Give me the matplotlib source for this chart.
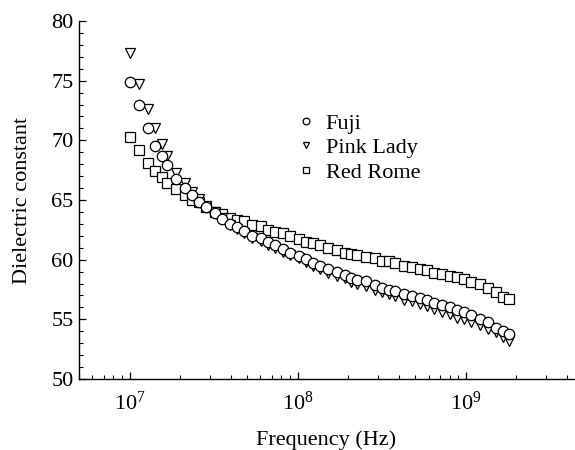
import matplotlib
matplotlib.use("Agg")
import matplotlib.pyplot as plt
from matplotlib.ticker import LogLocator, MultipleLocator, LogFormatterSciNotation, NullFormatter

plt.rcParams['font.family'] = ['Liberation Serif', 'DejaVu Serif']
plt.rcParams['mathtext.fontset'] = 'custom'
plt.rcParams['mathtext.rm'] = 'Liberation Serif'
plt.rcParams['mathtext.it'] = 'Liberation Serif:italic'

# Frequency (MHz)
freq_mhz = [10.0, 11.3, 12.8, 14.1, 15.5, 16.8, 19.0, 21.5, 23.6, 26.0,
            28.6, 32.0, 35.6, 39.8, 43.8, 48.1, 53.7, 60.7, 66.8, 73.5,
            82.0, 90.3, 102, 112, 124, 136, 152, 172, 191, 208,
            226, 255, 288, 317, 349, 379, 429, 478, 533, 587,
            646, 720, 804, 884, 973, 1071, 1211, 1351, 1507, 1658, 1800]

fuji = [74.9, 73.0, 71.0, 69.5, 68.7, 67.9, 66.8, 66.0, 65.4, 64.8,
        64.4, 63.9, 63.4, 63.0, 62.7, 62.4, 62.0, 61.8, 61.5, 61.2,
        60.9, 60.6, 60.3, 60.05, 59.75, 59.5, 59.25, 58.95, 58.75, 58.45,
        58.3, 58.2, 57.9, 57.65, 57.5, 57.4, 57.1, 56.95, 56.8, 56.6,
        56.4, 56.2, 56.0, 55.75, 55.6, 55.4, 55.05, 54.8, 54.3, 54.0, 53.8]

pink_lady = [77.3, 74.7, 72.6, 71.0, 69.7, 68.7, 67.3, 66.4, 65.7, 65.1,
             64.5, 64.0, 63.5, 62.9, 62.6, 62.25, 61.8, 61.6, 61.25, 61.0,
             60.65, 60.4, 60.1, 59.8, 59.5, 59.25, 58.9, 58.65, 58.45, 58.1,
             57.95, 57.8, 57.5, 57.25, 57.1, 56.95, 56.65, 56.5, 56.3, 56.1,
             55.9, 55.65, 55.45, 55.15, 55.0, 54.8, 54.55, 54.2, 53.9, 53.55, 53.2]

red_rome = [70.3, 69.2, 68.1, 67.4, 66.9, 66.4, 65.9, 65.4, 65.0, 64.8,
            64.4, 64.0, 63.8, 63.5, 63.3, 63.2, 62.9, 62.8, 62.5, 62.3,
            62.2, 62.0, 61.7, 61.5, 61.4, 61.2, 60.95, 60.8, 60.6, 60.45,
            60.4, 60.25, 60.1, 59.9, 59.85, 59.75, 59.5, 59.4, 59.25, 59.1,
            58.9, 58.8, 58.65, 58.55, 58.35, 58.15, 57.95, 57.65, 57.3, 56.9, 56.7]

freq_hz = [f * 1e6 for f in freq_mhz]

FS = 16

fig = plt.figure(figsize=(5.75, 4.5), dpi=100)
ax = fig.add_axes([79/575, 1 - 379/450, (574 - 79)/575, (379 - 21)/450])

mk = dict(linestyle='none', markersize=7.5, markeredgewidth=0.9,
          markeredgecolor='black', markerfacecolor='white')
ax.plot(freq_hz, red_rome, marker='s', label='Red Rome', zorder=3, **mk)
ax.plot(freq_hz, pink_lady, marker='v', label='Pink Lady', zorder=4, **mk)
ax.plot(freq_hz, fuji, marker='o', label='Fuji', zorder=5, **mk)

ax.set_xscale('log')
ax.set_xlim(5.0e6, 4.4e9)
ax.set_ylim(50, 80)

ax.spines['top'].set_visible(False)
ax.spines['right'].set_visible(False)
ax.spines['left'].set_linewidth(1.0)
ax.spines['bottom'].set_linewidth(1.0)

ax.yaxis.set_major_locator(MultipleLocator(5))
ax.yaxis.set_minor_locator(MultipleLocator(1))
ax.xaxis.set_major_locator(LogLocator(base=10, numticks=10))
ax.xaxis.set_minor_locator(LogLocator(base=10, subs=range(2, 10), numticks=20))
ax.xaxis.set_major_formatter(LogFormatterSciNotation())
ax.xaxis.set_minor_formatter(NullFormatter())

ax.tick_params(which='major', direction='in', length=5, width=0.9, labelsize=FS, pad=9)
ax.tick_params(which='minor', direction='in', length=3, width=0.8)
ax.tick_params(axis='y', which='major', pad=4)

ax.set_xlabel('Frequency (Hz)', fontsize=FS, labelpad=11)
ax.set_ylabel('Dielectric constant', fontsize=FS, labelpad=14)

handles, labels = ax.get_legend_handles_labels()
order = [2, 1, 0]
leg = ax.legend([handles[i] for i in order], [labels[i] for i in order],
                loc='upper left', bbox_to_anchor=(298/575, 1 - 113/450),
                bbox_transform=fig.transFigure, frameon=False, fontsize=FS,
                markerscale=0.65, handlelength=0.7, handletextpad=0.55,
                labelspacing=0.18, borderpad=0, borderaxespad=0)

fig.savefig('out.png', dpi=100)
